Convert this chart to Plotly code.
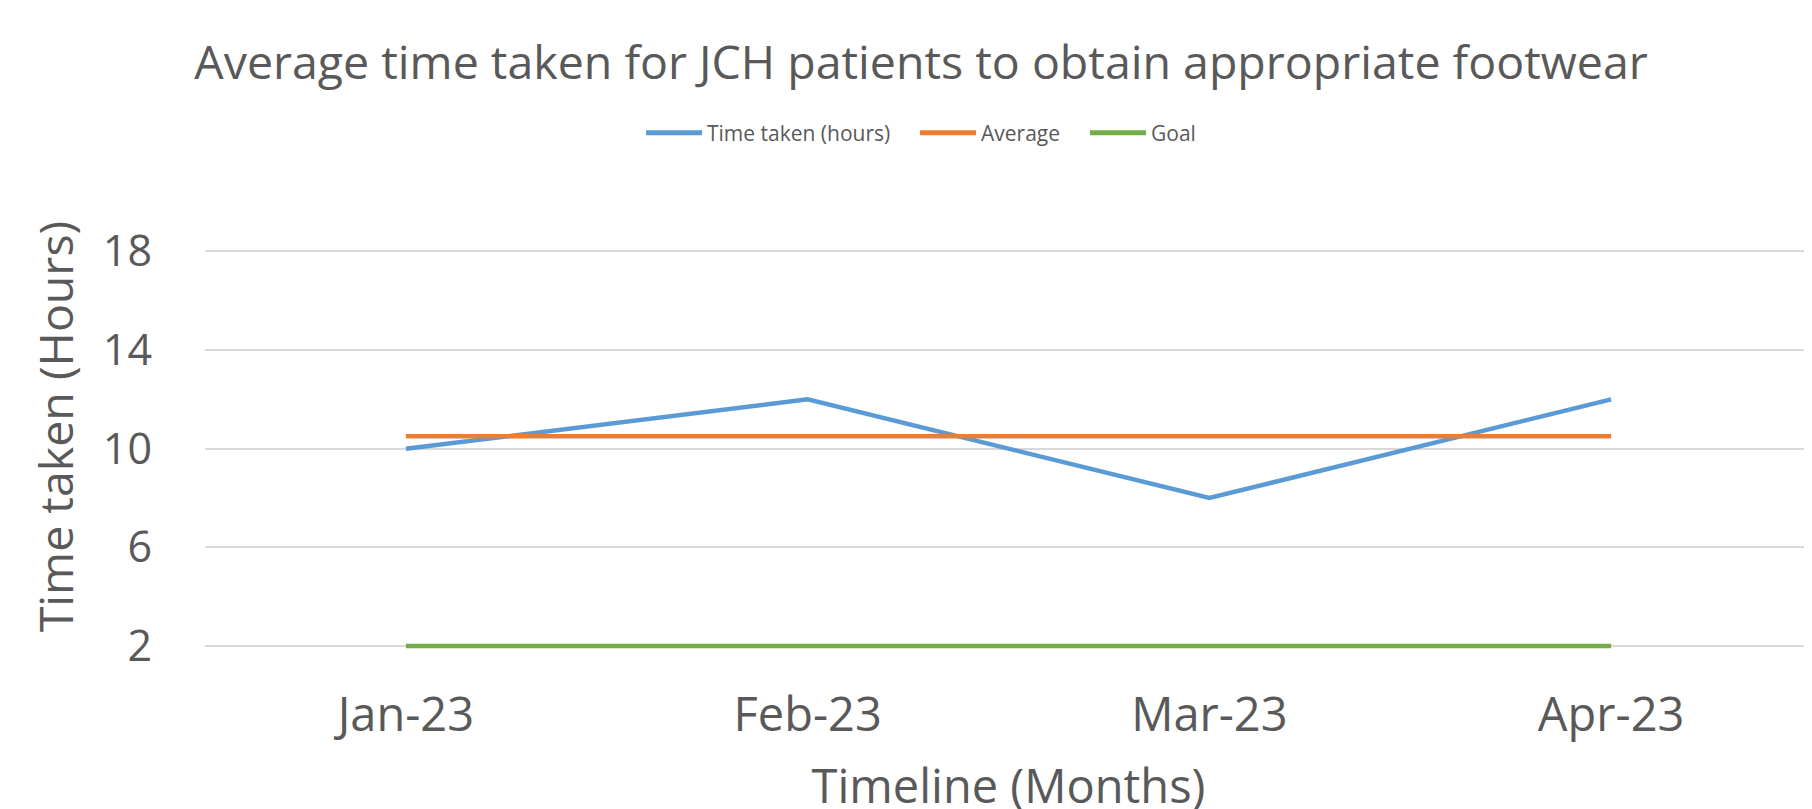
import plotly.graph_objects as go

months = ["Jan-23", "Feb-23", "Mar-23", "Apr-23"]
time_taken = [10, 12, 8, 12]
average = [10.5, 10.5, 10.5, 10.5]
goal = [2, 2, 2, 2]
y_ticks = [2, 6, 10, 14, 18]

FONT = "Open Sans, sans-serif"
TXT = "#595959"
W, H = 1812, 809

fig = go.Figure()
fig.add_trace(go.Scatter(x=months, y=time_taken, mode="lines", name="Time taken (hours)",
                         line=dict(color="#5B9BD5", width=4.5), legend="legend"))
fig.add_trace(go.Scatter(x=months, y=average, mode="lines", name="Average",
                         line=dict(color="#ED7D31", width=4.5), legend="legend2"))
fig.add_trace(go.Scatter(x=months, y=goal, mode="lines", name="Goal",
                         line=dict(color="#70AD47", width=4.5), legend="legend3"))


def leg(xpx):
    return dict(orientation="h", xref="container", x=xpx / W, xanchor="left",
                yref="container", y=1 - 125 / H, yanchor="middle",
                font=dict(size=21, color=TXT, family=FONT),
                itemsizing="constant", itemwidth=56, bgcolor="rgba(0,0,0,0)")


fig.update_layout(
    width=W, height=H,
    margin=dict(l=197, r=8, t=194, b=166, autoexpand=False),
    paper_bgcolor="white", plot_bgcolor="white",
    font=dict(family=FONT, color=TXT),
    title=dict(text="Average time taken for JCH patients to obtain appropriate footwear",
               x=913 / W, xanchor="center", y=1 - 55 / H, yanchor="middle",
               font=dict(size=46.5, color=TXT, family=FONT)),
    legend=leg(633),
    legend2=leg(907),
    legend3=leg(1077),
    xaxis=dict(type="category", range=[-0.5, 3.5], showgrid=False, showline=False, zeroline=False,
               automargin=False,
               tickfont=dict(size=47, color=TXT, family=FONT), ticks="", ticklabelstandoff=32,
               title=dict(text="Timeline (Months)", font=dict(size=47, color=TXT, family=FONT), standoff=42)),
    yaxis=dict(range=[1.8, 20], tickvals=y_ticks, showgrid=True, gridcolor="#D9D9D9", gridwidth=1.5,
               showline=False, zeroline=False, ticks="", automargin=False,
               tickfont=dict(size=43, color=TXT, family=FONT), ticklabelstandoff=52,
               title=dict(text="Time taken (Hours)", font=dict(size=46.5, color=TXT, family=FONT), standoff=14)),
    showlegend=True,
)

fig.write_html("out.html")
